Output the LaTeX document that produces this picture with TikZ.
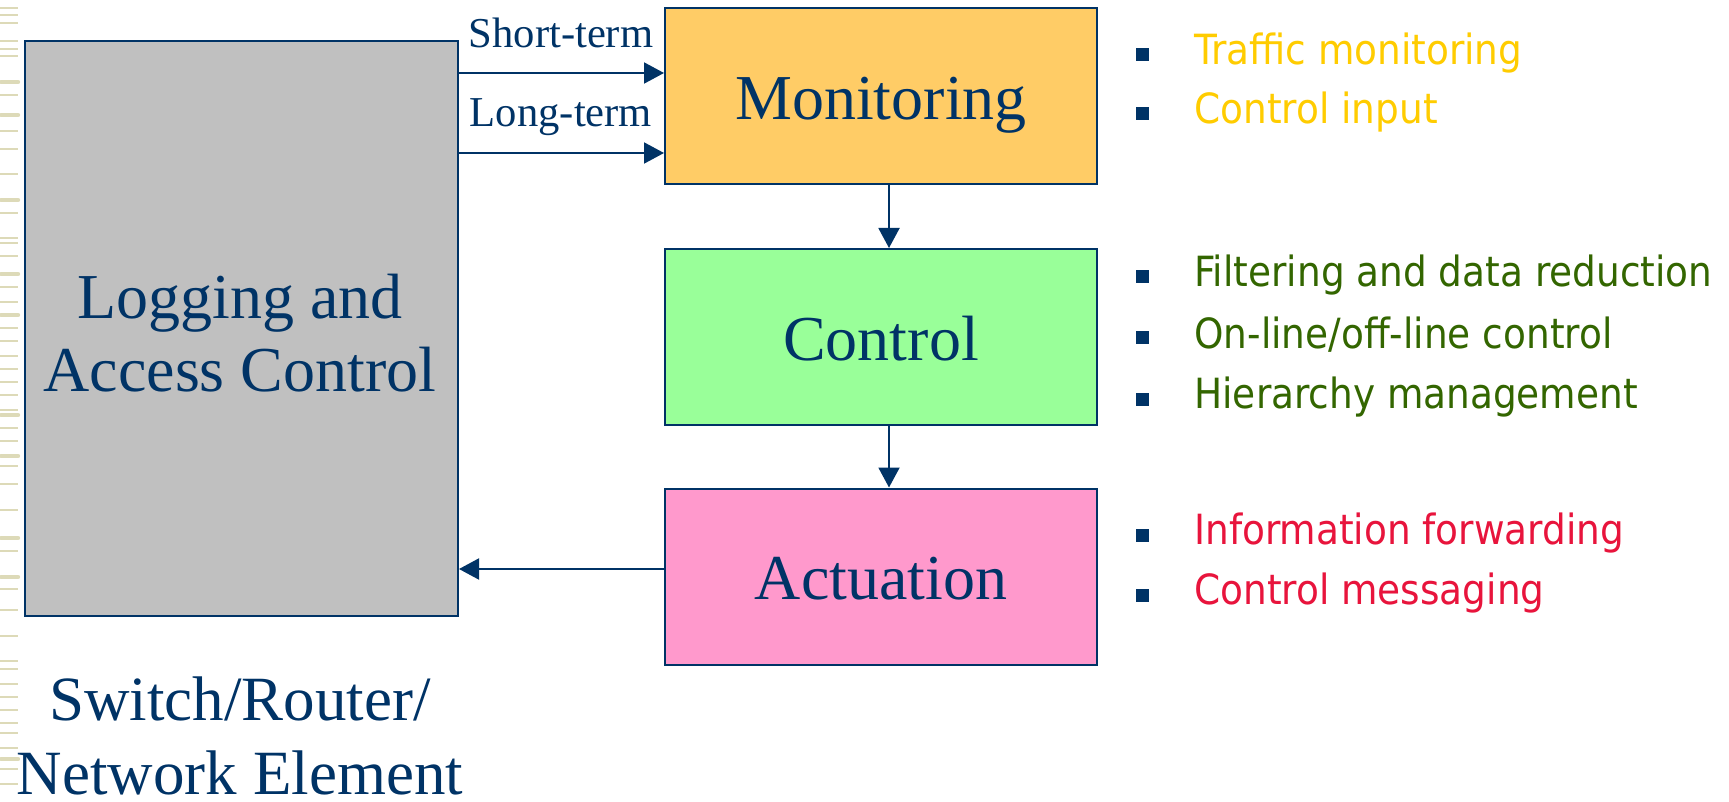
\documentclass[tikz,border=0pt]{standalone}
\usepackage{fontspec}
\setmainfont{Liberation Serif}
\newfontfamily\itemfont{DejaVu Sans Condensed}
\usetikzlibrary{arrows.meta,positioning,calc}
\definecolor{navy}{HTML}{003366}
\definecolor{monfill}{HTML}{FFCC66}
\definecolor{ctlfill}{HTML}{99FF99}
\definecolor{actfill}{HTML}{FF99CC}
\definecolor{elemfill}{HTML}{C0C0C0}
\definecolor{itemyellow}{HTML}{FFCC00}
\definecolor{itemgreen}{HTML}{336600}
\definecolor{itemred}{HTML}{E8143C}
\definecolor{stripe}{HTML}{DDDAB8}
\tikzset{
  block/.style={draw=navy, line width=1pt, inner sep=0pt, text=navy},
  stageblock/.style={block, minimum width=216pt, minimum height=88pt,
    text height=23pt, text depth=0pt, font=\fontsize{32}{36}\selectfont},
  flow/.style={draw=navy, line width=1pt, -{Triangle[length=10pt,width=10.5pt]}},
  flowlabel/.style={text=navy, font=\fontsize{21.3}{23}\selectfont, inner sep=0pt},
  bulletmark/.style={fill=navy, minimum size=6.5pt, inner sep=0pt},
  itemtext/.style={anchor=west, inner sep=0pt, font=\itemfont\fontsize{20.8}{23}\selectfont},
  stripeline/.style={draw=stripe, line width=1pt},
  thickstripe/.style={draw=stripe, line width=2.2pt, line cap=round},
}
\begin{document}
\begin{tikzpicture}[x=0.5pt, y=-0.5pt]
\useasboundingbox[fill=white] (0,0) rectangle (1729,802);

% decorative stripes along the left edge
\foreach \yy in {8,15,23,41,49,56,95,131,149,174,213,238,243,256,287,302,328,341,356,369,382,395,410,428,441,466,484,510,551,589,610,636,661,669,684,697,710,723,733,748,769,784}
  \draw[stripeline] (0,\yy) -- (18,\yy);
\foreach \yy in {82,115,200,274,315,415,456,538,577,759}
  \draw[thickstripe] (1,\yy) -- (18,\yy);

% network element
\node[block, fill=elemfill, minimum width=216.5pt, minimum height=287.5pt] (elem) at (241.5,328.5) {};
\node[text=navy, align=center, font=\fontsize{32}{36.5}\selectfont] (elemlabel) at (240,333) {Logging and\\Access Control};
\node[text=navy, align=center, inner sep=0pt, font=\fontsize{31.5}{37}\selectfont] (elemname) at (240,736) {Switch/Router/\\Network Element};

% processing stages
\node[stageblock, fill=monfill] (mon) at (881,96.5) {Monitoring};
\node[stageblock, fill=ctlfill] (ctl) at (881,337) {Control};
\node[stageblock, fill=actfill] (act) at (881,576.5) {Actuation};

% connectors
\coordinate (sy) at (0,73);
\coordinate (ly) at (0,153);
\coordinate (ry) at (0,569);
\coordinate (vx) at (889,0);
\draw[flow] (elem.east |- sy) -- (mon.west |- sy);
\draw[flow] (elem.east |- ly) -- (mon.west |- ly);
\draw[flow] (mon.south -| vx) -- (ctl.north -| vx);
\draw[flow] (ctl.south -| vx) -- (act.north -| vx);
\draw[flow] (act.west |- ry) -- (elem.east |- ry);
\node[flowlabel] (shortlbl) at (561,33) {Short-term};
\node[flowlabel] (longlbl) at (561,117) {Long-term};

% item lists
\foreach \yy/\col/\txt [count=\i] in {
  53/itemyellow/{Traffic monitoring},
  112/itemyellow/{Control input},
  275/itemgreen/{Filtering and data reduction},
  335/itemgreen/{On-line/off-line control},
  397/itemgreen/{Hierarchy management},
  533/itemred/{Information forwarding},
  593/itemred/{Control messaging}} {
  \node[bulletmark] (b\i) at (1142,\yy+2) {};
  \node[itemtext, text=\col] (t\i) at (1194,\yy) {\txt};
}
\end{tikzpicture}
\end{document}
